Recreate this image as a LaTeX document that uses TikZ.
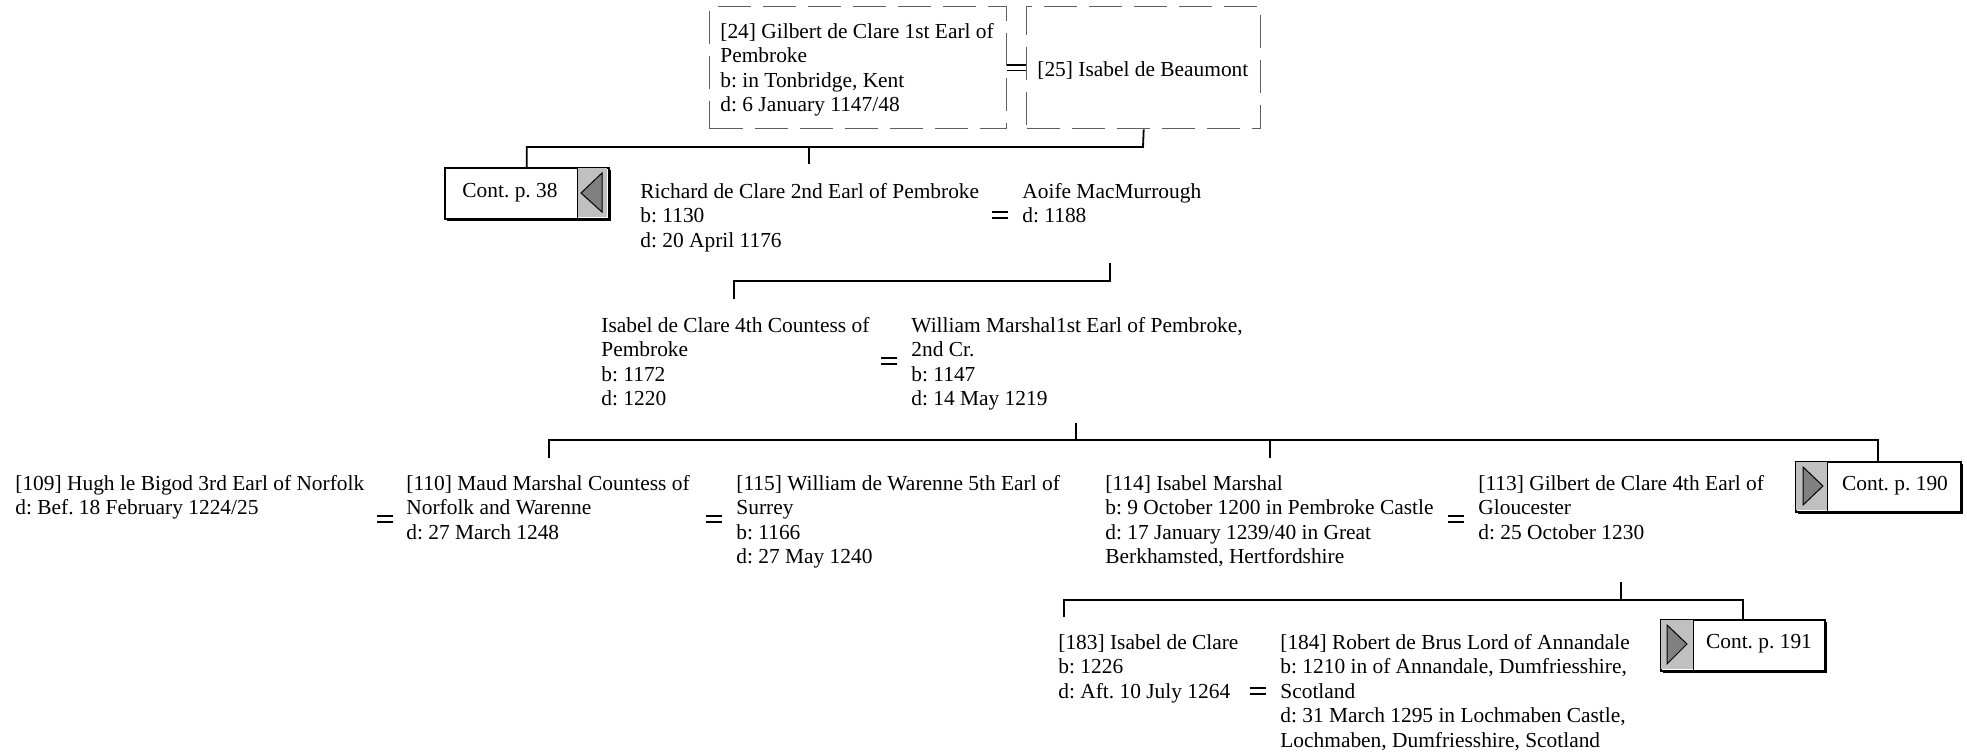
\documentclass[tikz,border=0pt]{standalone}
\usepackage{fontspec}
\setmainfont{Liberation Serif}
\usetikzlibrary{shadows}
\frenchspacing
\definecolor{contgray}{HTML}{C0C0C0}
\definecolor{tridark}{HTML}{808080}
\definecolor{dashgray}{HTML}{606060}
\newcommand{\pfont}{\fontsize{10.7pt}{12.3pt}\selectfont}
\newcommand{\ptext}[1]{\begin{tabular}[t]{@{}l@{}}#1\end{tabular}}
\begin{document}
\begin{tikzpicture}[x=0.5pt,y=-0.5pt,
  person/.style={anchor=base west,inner sep=0pt,font=\pfont},
  line/.style={line width=0.9pt,black},
  marr/.style={line width=0.9pt,black},
  dbox/.style={draw=dashgray,line width=0.7pt,dash pattern=on 16.5pt off 6pt,
    anchor=north west,inner sep=0pt},
  contbox/.style={draw=black,line width=0.8pt,fill=white,anchor=north west,inner sep=0pt,
    general shadow={fill=black,shadow xshift=1pt,shadow yshift=-1pt}},
  tri/.style={fill=tridark,draw=black,line width=0.5pt},
  conttext/.style={font=\pfont,inner sep=0pt},
  pics/eq/.style={code={\draw[marr] (-8,-3) -- (8,-3) (-8,3) -- (8,3);}}
]
\useasboundingbox (0,0) rectangle (1967,752);

% generation 1
\node[dbox,minimum width=148.5pt,minimum height=61pt] (b24) at (709,6) {};
\node[dbox,minimum width=117pt,minimum height=61pt] (b25) at (1026,6) {};
\node[person] (b24t) at (720,38) {\ptext{[24] Gilbert de Clare 1st Earl of\\Pembroke\\b: in Tonbridge, Kent\\d: 6 January 1147/48}};
\node[person] (b25t) at (1037,76) {[25] Isabel de Beaumont};
\draw[line width=0.6pt] ([yshift=1.4pt]b24.east) -- ([yshift=1.4pt]b25.west);
\draw[line width=0.6pt] ([yshift=-1.4pt]b24.east) -- ([yshift=-1.4pt]b25.west);

% generation 2
\node[contbox,minimum width=82pt,minimum height=25.5pt] (c38) at (444,167) {};
\fill[contgray] (577,168) rectangle (607,217);
\draw[line width=0.5pt] (577,167) -- (577,218);
\draw[tri] (602,173) -- (581,193) -- (602,212) -- cycle;
\node[conttext] (t38) at (510,193) {Cont. p. 38};

\node[person] (rich) at (640,198) {\ptext{Richard de Clare 2nd Earl of Pembroke\\b: 1130\\d: 20 April 1176}};
\node[person] (aoife) at (1022,198) {\ptext{Aoife MacMurrough\\d: 1188}};
\pic at (1000,215) {eq};

\coordinate (j1) at (1143,147);
\coordinate (r1) at (809,164);
\draw[line] (b25.south) -- (j1) -| (c38.north);
\draw[line] (r1 |- j1) -- (r1);

% generation 3
\node[person] (isab) at (601,332) {\ptext{Isabel de Clare 4th Countess of\\Pembroke\\b: 1172\\d: 1220}};
\node[person] (will) at (911,332) {\ptext{William Marshal1st Earl of Pembroke,\\2nd Cr.\\b: 1147\\d: 14 May 1219}};
\pic at (889,361) {eq};

\coordinate (a1) at (1110,263);
\coordinate (a2) at (1110,281);
\coordinate (i1) at (734,299);
\draw[line] (a1) -- (a2) -| (i1);

% generation 4
\node[person] (hugh) at (15,490) {\ptext{[109] Hugh le Bigod 3rd Earl of Norfolk\\d: Bef. 18 February 1224/25}};
\node[person] (maud) at (406,490) {\ptext{[110] Maud Marshal Countess of\\Norfolk and Warenne\\d: 27 March 1248}};
\node[person] (warenne) at (736,490) {\ptext{[115] William de Warenne 5th Earl of\\Surrey\\b: 1166\\d: 27 May 1240}};
\node[person] (isam) at (1105,490) {\ptext{[114] Isabel Marshal\\b: 9 October 1200 in Pembroke Castle\\d: 17 January 1239/40 in Great\\Berkhamsted, Hertfordshire}};
\node[person] (gil) at (1478,490) {\ptext{[113] Gilbert de Clare 4th Earl of\\Gloucester\\d: 25 October 1230}};
\pic at (385,519) {eq};
\pic at (714,519) {eq};
\pic at (1456,519) {eq};

\node[contbox,minimum width=82.5pt,minimum height=25pt] (c190) at (1795,461) {};
\fill[contgray] (1796,462) rectangle (1827,510);
\draw[line width=0.5pt] (1827,461) -- (1827,511);
\draw[tri] (1803,467) -- (1823,486) -- (1803,505) -- cycle;
\node[conttext] (t190) at (1895,486) {Cont. p. 190};

\coordinate (w1) at (1076,423);
\coordinate (w2) at (1076,440);
\coordinate (m1) at (549,458);
\coordinate (im1) at (1270,458);
\draw[line] (w1) -- (w2);
\draw[line] (m1) |- (w2) -| (c190.north);
\draw[line] (im1) -- (im1 |- w2);

% generation 5
\node[person] (isc) at (1058,649) {\ptext{[183] Isabel de Clare\\b: 1226\\d: Aft. 10 July 1264}};
\node[person] (rob) at (1280,649) {\ptext{[184] Robert de Brus Lord of Annandale\\b: 1210 in of Annandale, Dumfriesshire,\\Scotland\\d: 31 March 1295 in Lochmaben Castle,\\Lochmaben, Dumfriesshire, Scotland}};
\pic at (1258,691) {eq};

\node[contbox,minimum width=82pt,minimum height=25.5pt] (c191) at (1660,619) {};
\fill[contgray] (1661,620) rectangle (1693,669);
\draw[line width=0.5pt] (1693,619) -- (1693,670);
\draw[tri] (1667,625) -- (1687,644) -- (1667,664) -- cycle;
\node[conttext] (t191) at (1759,644) {Cont. p. 191};

\coordinate (g1) at (1621,582);
\coordinate (g2) at (1621,600);
\coordinate (ic1) at (1064,617);
\draw[line] (g1) -- (g2);
\draw[line] (ic1) |- (g2) -| (c191.north);
\end{tikzpicture}
\end{document}
